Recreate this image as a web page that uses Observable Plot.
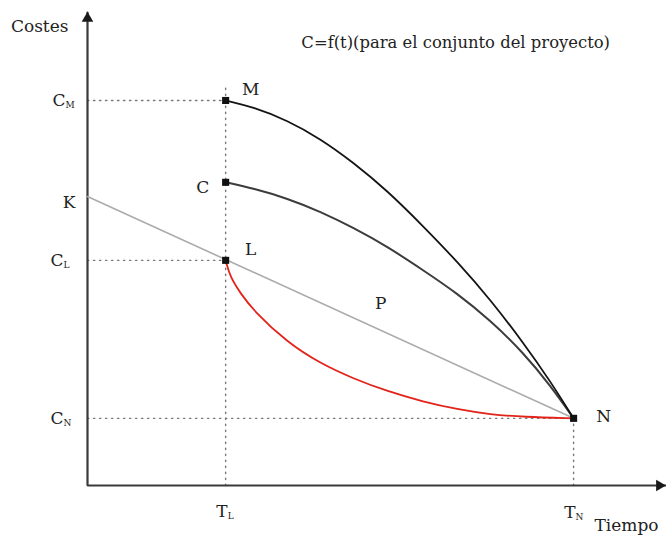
<!DOCTYPE html>
<html>
<head>
<meta charset="utf-8">
<script src="https://cdn.jsdelivr.net/npm/d3@7"></script>
<script src="https://cdn.jsdelivr.net/npm/@observablehq/plot@0.6"></script>
<style>
  html, body { margin: 0; padding: 0; background: #fff; }
  #chart svg { display: block; }
</style>
</head>
<body>
<div id="chart"></div>
<script>
// ---- values (axis units 0–100) ----
const T_L = 23.9, T_N = 84.1;
const C_N = 14.2, C_L = 47.6, C_C = 64.1, C_M = 81.4, K_val = 61.1;
const axisMax = 100;
const titleT = 63.7;

// curve M -> N
const tM = [23.9, 28.7, 34.6, 40.3, 46.0, 51.9, 58.1, 64.0, 69.7, 75.4, 80.1, 84.1];
const cM = [81.4, 80.0, 77.2, 73.3, 68.3, 62.3, 54.8, 47.3, 39.3, 30.2, 22.0, 14.2];
// curve C -> N
const tC = [23.9, 28.7, 34.6, 40.3, 46.0, 51.9, 58.1, 64.0, 69.7, 75.4, 80.1, 84.1];
const cC = [64.1, 62.8, 60.7, 57.9, 54.5, 50.5, 45.5, 40.6, 34.9, 28.1, 21.1, 14.2];
// curve L -> N (red)
const tL = [23.9, 24.7, 26.5, 28.7, 34.6, 40.3, 46.0, 51.9, 58.1, 64.0, 69.7, 75.4, 84.1];
const cL = [47.6, 44.0, 40.6, 37.0, 30.2, 25.8, 22.6, 19.9, 17.7, 16.1, 15.0, 14.5, 14.2];

const titleText = "C=f(t)(para el conjunto del proyecto)";

// ---- tables built from the arrays ----
const zip = (ts, cs) => ts.map((t, i) => ({t, c: cs[i]}));
const curveM = zip(tM, cM), curveC = zip(tC, cC), curveL = zip(tL, cL);
const lineKN = [{t: 0, c: K_val}, {t: T_N, c: C_N}];
const squares = [{t: T_L, c: C_M}, {t: T_L, c: C_C}, {t: T_L, c: C_L}, {t: T_N, c: C_N}];
const guides = [
  [{t: 0, c: C_M}, {t: T_L, c: C_M}],
  [{t: 0, c: C_L}, {t: T_L, c: C_L}],
  [{t: 0, c: C_N}, {t: T_N, c: C_N}],
  [{t: T_L, c: 0}, {t: T_L, c: C_M + 3}],
  [{t: T_N, c: 0}, {t: T_N, c: C_N}]
];

const FONT = "DejaVu Serif";
const txt = (d, opts) => Plot.text(d, {x: "t", y: "c", text: "s", fill: "#222", fontSize: 17, fontFamily: FONT, ...opts});
const sub = (d, opts) => Plot.text(d, {x: "t", y: "c", text: "s", fill: "#222", fontSize: 9, fontFamily: FONT, textAnchor: "start", ...opts});

const dotted = {x: "t", y: "c", stroke: "#777", strokeWidth: 1.4, strokeDasharray: "1.4,4.6"};

const chart = Plot.plot({
  width: 666,
  height: 536,
  marginLeft: 87,
  marginRight: 1,
  marginTop: 12,
  marginBottom: 51,
  x: {domain: [0, axisMax], axis: null},
  y: {domain: [0, axisMax], axis: null},
  style: {fontFamily: FONT, background: "#fff"},
  marks: [
    // dotted guides
    ...guides.map(g => Plot.line(g, dotted)),
    // axes
    Plot.line([{t: 0, c: axisMax}, {t: 0, c: 0}, {t: axisMax, c: 0}], {x: "t", y: "c", stroke: "#3a3a3a", strokeWidth: 2.2, strokeLinejoin: "miter"}),
    Plot.dot([{t: 0, c: axisMax}], {x: "t", y: "c", symbol: "triangle", r: 4.3, fill: "#1a1a1a", dy: 6}),
    Plot.dot([{t: axisMax, c: 0}], {x: "t", y: "c", symbol: "triangle", r: 4.3, fill: "#1a1a1a", rotate: 90, dx: -6}),
    // K–N straight line
    Plot.line(lineKN, {x: "t", y: "c", stroke: "#ababab", strokeWidth: 1.6}),
    // curves
    Plot.line(curveL, {x: "t", y: "c", stroke: "#e2231a", strokeWidth: 1.8, curve: "basis"}),
    Plot.line(curveC, {x: "t", y: "c", stroke: "#3c3c3c", strokeWidth: 2, curve: "basis"}),
    Plot.line(curveM, {x: "t", y: "c", stroke: "#141414", strokeWidth: 1.8, curve: "basis"}),
    // square markers
    Plot.dot(squares, {x: "t", y: "c", symbol: "square", r: 4, fill: "#111"}),
    // point labels
    txt([{s: "M", t: T_L, c: C_M}], {dx: 25, dy: -11}),
    txt([{s: "C", t: T_L, c: C_C}], {dx: -23, dy: 5}),
    txt([{s: "L", t: T_L, c: C_L}], {dx: 25, dy: -11}),
    txt([{s: "N", t: T_N, c: C_N}], {dx: 30, dy: -2}),
    txt([{s: "P", t: (T_L + T_N) / 2, c: (C_L + C_N) / 2}], {dx: -19, dy: -36}),
    txt([{s: "K", t: 0, c: K_val}], {textAnchor: "end", dx: -12, dy: 6}),
    // y tick labels with subscripts
    txt([{s: "C", t: 0, c: C_M}], {textAnchor: "end", dx: -22}),
    sub([{s: "M", t: 0, c: C_M}], {dx: -22, dy: 5}),
    txt([{s: "C", t: 0, c: C_L}], {textAnchor: "end", dx: -24}),
    sub([{s: "L", t: 0, c: C_L}], {dx: -24, dy: 5}),
    txt([{s: "C", t: 0, c: C_N}], {textAnchor: "end", dx: -24}),
    sub([{s: "N", t: 0, c: C_N}], {dx: -24, dy: 5}),
    // x tick labels with subscripts
    txt([{s: "T", t: T_L, c: 0}], {textAnchor: "end", dx: 2, dy: 26}),
    sub([{s: "L", t: T_L, c: 0}], {dx: 2, dy: 31}),
    txt([{s: "T", t: T_N, c: 0}], {textAnchor: "end", dx: 2, dy: 27}),
    sub([{s: "N", t: T_N, c: 0}], {dx: 2, dy: 32}),
    // axis titles
    txt([{s: "Costes", t: 0, c: axisMax}], {textAnchor: "end", dx: -19, dy: 14}),
    txt([{s: "Tiempo", t: axisMax, c: 0}], {textAnchor: "end", dx: -7, dy: 40}),
    // chart title
    txt([{s: titleText, t: titleT, c: axisMax}], {dy: 30, fontSize: 16.4})
  ]
});
document.getElementById("chart").appendChild(chart);
</script>
</body>
</html>
